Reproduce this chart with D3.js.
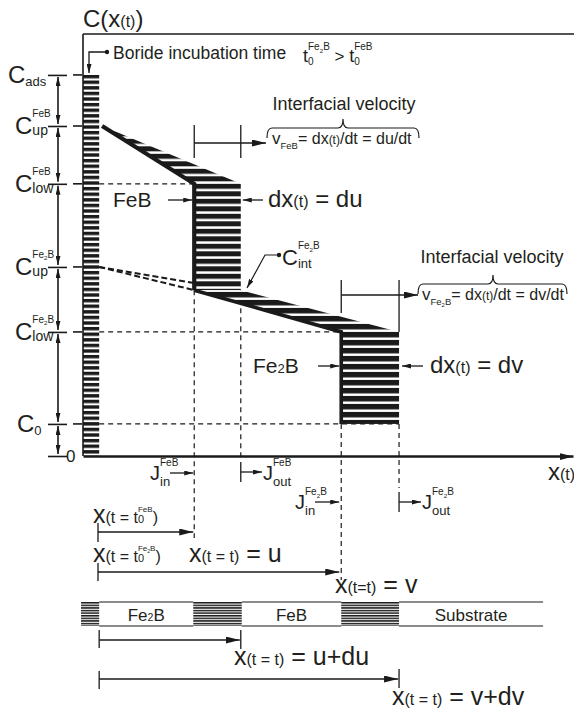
<!DOCTYPE html>
<html>
<head>
<meta charset="utf-8">
<script src="https://cdn.jsdelivr.net/npm/d3@7"></script>
<style>
  body { margin: 0; background: #fff; }
  text { font-family: "Liberation Sans", Arial, sans-serif; fill: #231f20; white-space: pre; }
</style>
</head>
<body>
<svg id="chart" width="574" height="713"></svg>
<script>
// concentration levels on the C(x(t)) axis
var levelKeys = ["ads", "upFeB", "lowFeB", "upFe2B", "lowFe2B", "c0", "zero"];
var levelValues = [9.03, 7.82, 6.45, 4.48, 2.94, 0.76, 0];
var levelSup = ["", "FeB", "FeB", "Fe₂B", "Fe₂B", "", ""];
var levelSub = ["ads", "up", "low", "up", "low", "0", ""];
var cInt = 3.93, cDash = 4.10;

// depth positions along x(t)
var depthKeys = ["column", "feStart", "u", "uDu", "v", "vDv", "substrate", "axisEnd"];
var depthValues = [0.33, 0.39, 2.27, 3.22, 5.27, 6.45, 9.39, 10];

// layer strip under the plot
var bandNames = ["", "Fe₂B", "", "FeB", "", "Substrate"];
var bandEdges = [-0.04, 0.33, 2.25, 3.24, 5.27, 6.45, 9.39];

var L = {}, D = {};
levelKeys.forEach(function(k, i) { L[k] = levelValues[i]; });
depthKeys.forEach(function(k, i) { D[k] = depthValues[i]; });

var ink = "#1a1a1a";
var svg = d3.select("#chart");
var x = d3.scaleLinear().domain([0, 10]).range([83, 573]);
var y = d3.scaleLinear().domain([0, 10]).range([456, 34]);

var defs = svg.append("defs");
function stripes(id, period, black, y0) {
  var p = defs.append("pattern").attr("id", id).attr("patternUnits", "userSpaceOnUse")
    .attr("width", 20).attr("height", period).attr("y", y0);
  p.append("rect").attr("width", 20).attr("height", period).attr("fill", "#fff");
  p.append("rect").attr("width", 20).attr("height", black).attr("fill", ink);
}
stripes("hCol", 5.6, 3.4, y(L.ads));
stripes("hFeB", 7.5, 5, y(L.lowFeB));
stripes("hFe2B", 8, 5.5, y(L.lowFe2B));
stripes("hBand", 2.6, 1.5, 602);

function marker(id, w, h) {
  defs.append("marker").attr("id", id).attr("viewBox", "0 0 10 10").attr("refX", 10).attr("refY", 5)
    .attr("markerWidth", w).attr("markerHeight", h).attr("markerUnits", "userSpaceOnUse")
    .attr("preserveAspectRatio", "none").attr("orient", "auto-start-reverse")
    .append("path").attr("d", "M0,0L10,5L0,10z").attr("fill", ink);
}
marker("ar", 14, 7);
marker("arS", 9, 5);

function line(x1, y1, x2, y2, w, dash, mk, mkStart) {
  var l = svg.append("line").attr("x1", x1).attr("y1", y1).attr("x2", x2).attr("y2", y2)
    .attr("stroke", ink).attr("stroke-width", w);
  if (dash) l.attr("stroke-dasharray", dash);
  if (mk) l.attr("marker-end", "url(#" + mk + ")");
  if (mkStart) l.attr("marker-start", "url(#" + mkStart + ")");
  return l;
}

function word(g, px, py, s, size) {
  var t = g.append("text").attr("x", px).attr("y", py).attr("xml:space", "preserve")
    .style("font-size", size + "px");
  var drop = size < 14 ? size * 0.25 : 0;
  s.split("₂").forEach(function(b, i) {
    if (i > 0) t.append("tspan").style("font-size", (size * 0.62) + "px").attr("dy", drop).text("2");
    if (b) t.append("tspan").attr("dy", i > 0 ? -drop : 0).text(b);
  });
  return t.node().getComputedTextLength();
}

// parts: [text, size, dy] or {sup: [...], sub: [...]}
function put(x0, yb, parts, anchor) {
  var g = svg.append("g"), cx = x0;
  parts.forEach(function(p) {
    if (Array.isArray(p)) cx += word(g, cx, yb + (p[2] || 0), p[0], p[1]);
    else {
      var w1 = p.sup ? word(g, cx, yb + p.sup[2], p.sup[0], p.sup[1]) : 0;
      var w2 = p.sub ? word(g, cx, yb + p.sub[2], p.sub[0], p.sub[1]) : 0;
      cx += Math.max(w1, w2);
    }
  });
  if (anchor === "middle") g.attr("transform", "translate(" + ((x0 - cx) / 2) + ",0)");
  return g;
}

// ---- guide lines (dashed)
line(x(D.column), y(L.lowFeB), x(D.u), y(L.lowFeB), 1.2, "5,4");
line(x(D.column), y(L.lowFe2B), x(D.v), y(L.lowFe2B), 1.2, "5,4");
line(x(D.column), y(L.c0), x(D.vDv), y(L.c0), 1.2, "5,4");
line(x(D.column), y(L.upFe2B), x(D.u), y(cDash), 2, "6,3");
line(x(D.column), y(L.upFe2B), x(D.u), y(cInt), 2, "6,3");
line(x(D.u), y(cInt), x(D.u), 538, 1.2, "5,4");
line(x(D.uDu), y(cInt), x(D.uDu), 460, 1.2, "5,4");
line(x(D.v), y(L.c0), x(D.v), 580, 1.2, "5,4");
line(x(D.vDv), y(L.c0), x(D.vDv), 488, 1.2, "5,4");

// ---- hatched regions
svg.append("rect").attr("x", x(0)).attr("y", y(L.ads)).attr("width", x(D.column) - x(0))
  .attr("height", y(0) - y(L.ads)).attr("fill", "url(#hCol)");
var poly = d3.line().x(function(d) { return x(d[0]); }).y(function(d) { return y(d[1]); });
svg.append("path").attr("d", poly([[D.feStart, L.upFeB], [D.u, L.lowFeB], [D.uDu, L.lowFeB]]) + "Z")
  .attr("fill", "url(#hFeB)");
svg.append("rect").attr("x", x(D.u)).attr("y", y(L.lowFeB)).attr("width", x(D.uDu) - x(D.u))
  .attr("height", y(cInt) - y(L.lowFeB)).attr("fill", "url(#hFeB)");
svg.append("path").attr("d", poly([[D.u, cInt], [D.uDu, cInt], [D.vDv, L.lowFe2B], [D.v, L.lowFe2B]]) + "Z")
  .attr("fill", "url(#hFe2B)");
svg.append("rect").attr("x", x(D.v)).attr("y", y(L.lowFe2B)).attr("width", x(D.vDv) - x(D.v))
  .attr("height", y(L.c0) - y(L.lowFe2B)).attr("fill", "url(#hFe2B)");

// ---- concentration profiles
svg.append("path").attr("d", poly([[D.feStart, L.upFeB], [D.u, L.lowFeB], [D.u, cInt]]))
  .attr("fill", "none").attr("stroke", ink).attr("stroke-width", 4.2);
svg.append("path").attr("d", poly([[D.u, cInt], [D.v, L.lowFe2B], [D.v, L.c0]]))
  .attr("fill", "none").attr("stroke", ink).attr("stroke-width", 3.6);

// ---- axes and frame
line(x(0), y(10), x(0), y(0), 1.6);
line(x(0), y(10), 574, y(10), 1.6);
var xAxis = d3.axisBottom(x).tickValues([]).tickSizeOuter(0);
svg.append("g").attr("transform", "translate(0," + y(0) + ")").call(xAxis)
  .select(".domain").attr("stroke", ink).attr("stroke-width", 2.6).attr("marker-end", "url(#ar)");
var yAxis = d3.axisLeft(y).tickValues(levelValues).tickSize(19).tickFormat("");
svg.append("g").attr("transform", "translate(67,0)").call(yAxis)
  .call(function(g) { g.select(".domain").remove(); })
  .selectAll("line").attr("stroke", ink).attr("stroke-width", 1.6);
levelValues.slice(0, -1).forEach(function(v, i) {
  line(73, y(v), 82, y(v), 1.6);
  line(58, y(v) + 2, 58, y(levelValues[i + 1]) - 2, 1.6, null, "arS", "arS");
});

// level labels
var labelX = [8, 15, 15, 15, 15, 17];
levelKeys.slice(0, -1).forEach(function(k, i) {
  var yl = y(levelValues[i]);
  var parts = [["C", 24]];
  if (levelSup[i]) parts.push({ sup: [levelSup[i], 10, -17], sub: [levelSub[i], 14, 1] });
  else parts.push({ sub: [levelSub[i], 13, 3] });
  put(labelX[i], yl + 8, parts);
});
put(66, y(0) + 6, [["0", 17]]);

// titles
put(83, 27, [["C(x", 24], ["(t)", 16], [")", 24]]);
put(548, 480, [["x", 24], ["(t)", 16]]);

// boride incubation time
svg.append("circle").attr("cx", 107).attr("cy", 52).attr("r", 2.2).attr("fill", ink);
svg.append("path").attr("d", "M107,52H89V73").attr("fill", "none").attr("stroke", ink)
  .attr("stroke-width", 1.3).attr("marker-end", "url(#arS)");
put(113, 59, [["Boride incubation time", 17.5]]);
put(303, 62, [["t", 18], { sup: ["Fe₂B", 10, -12], sub: ["0", 10, 3] }, [" > ", 17], ["t", 18],
  { sup: ["FeB", 10, -12], sub: ["0", 10, 3] }]);

// interfacial velocity FeB
function brace(x1, x2, yb, xm) {
  svg.append("path").attr("fill", "none").attr("stroke", ink).attr("stroke-width", 1.2)
    .attr("d", "M" + x1 + "," + (yb + 10) + "Q" + x1 + "," + yb + " " + (x1 + 5) + "," + yb +
      "L" + (xm - 5) + "," + yb + "Q" + xm + "," + yb + " " + xm + "," + (yb - 9) +
      "Q" + xm + "," + yb + " " + (xm + 5) + "," + yb + "L" + (x2 - 5) + "," + yb +
      "Q" + x2 + "," + yb + " " + x2 + "," + (yb + 10));
}
line(x(D.u), 125, x(D.u), 158, 1.3);
line(x(D.uDu), 125, x(D.uDu), 158, 1.3);
line(x(D.u), 143, 266, 143, 1.3, null, "ar");
svg.append("text").attr("x", 344).attr("y", 110).attr("text-anchor", "middle")
  .style("font-size", "18px").text("Interfacial velocity");
brace(267, 419, 128, 343);
put(272, 144, [["v", 17], { sub: ["FeB", 9.5, 5] }, ["= dx", 16], ["(t)", 12], ["/dt = du/dt", 16]]);

// interfacial velocity Fe2B
line(x(D.v), 280, x(D.v), 313, 1.3);
line(x(D.vDv), 280, x(D.vDv), y(L.lowFe2B), 1.3);
line(x(D.v), 295, 418, 295, 1.3, null, "ar");
svg.append("text").attr("x", 492).attr("y", 263).attr("text-anchor", "middle")
  .style("font-size", "18px").text("Interfacial velocity");
brace(418, 567, 284, 493);
put(422, 300, [["v", 17], { sub: ["Fe₂B", 9.5, 5] }, ["= dx", 16], ["(t)", 12], ["/dt = dv/dt", 16]]);

// layer labels inside plot
put(113, 207, [["FeB", 21]]);
line(168, 200, x(D.u) - 2, 200, 1.3, null, "arS");
put(268, 207, [["dx", 24], ["(t)", 16], [" = du", 24]]);
line(263, 200, x(D.uDu) + 2, 200, 1.3, null, "arS");
put(253, 373, [["Fe₂B", 21]]);
line(318, 366, x(D.v) - 2, 366, 1.3, null, "arS");
put(430, 373, [["dx", 24], ["(t)", 16], [" = dv", 24]]);
line(423, 366, x(D.vDv) + 3, 366, 1.3, null, "arS");

// C_int marker
svg.append("circle").attr("cx", 279).attr("cy", 255).attr("r", 2.2).attr("fill", ink);
svg.append("path").attr("d", "M279,255H265L247,288").attr("fill", "none").attr("stroke", ink)
  .attr("stroke-width", 1.2).attr("marker-end", "url(#arS)");
put(282, 265, [["C", 22], { sup: ["Fe₂B", 10, -16], sub: ["int", 13, 3] }]);

// fluxes
put(150, 480, [["J", 20], { sup: ["FeB", 10, -14], sub: ["in", 13, 6] }]);
line(170, 473, x(D.u) - 1, 473, 1.3, null, "arS");
line(x(D.uDu), 462, x(D.uDu), 482, 1.3);
line(x(D.uDu), 472, 262, 472, 1.3, null, "arS");
put(263, 480, [["J", 20], { sup: ["FeB", 10, -14], sub: ["out", 13, 6] }]);
put(295, 509, [["J", 20], { sup: ["Fe₂B", 10, -14], sub: ["in", 13, 6] }]);
line(315, 502, x(D.v) - 2, 502, 1.3, null, "arS");
line(x(D.vDv), 492, x(D.vDv), 512, 1.3);
line(x(D.vDv), 502, 421, 502, 1.3, null, "arS");
put(422, 509, [["J", 20], { sup: ["Fe₂B", 10, -14], sub: ["out", 13, 6] }]);

// depth arrows
put(93, 523, [["x", 25], ["(t = t", 16], { sup: ["FeB", 8, -11], sub: ["0", 11, 0] }, [")", 16]]);
line(98, 523, 98, 542, 1.3);
line(98, 532, x(D.u) - 1, 532, 1.3, null, "ar");
put(93, 562, [["x", 25], ["(t = t", 16], { sup: ["Fe₂B", 8, -11], sub: ["0", 11, 0] }, [")", 16]]);
put(189, 562, [["x", 25], ["(t = t)", 16], [" = u", 25]]);
line(98, 563, 98, 581, 1.3);
line(98, 572, x(D.v) - 2, 572, 1.3, null, "ar");
put(335, 593, [["x", 25], ["(t=t)", 16], [" = v", 25]]);

// layer strip
bandNames.forEach(function(name, i) {
  var a = x(bandEdges[i]), b = x(bandEdges[i + 1]);
  if (!name) {
    svg.append("rect").attr("x", a).attr("y", 602).attr("width", b - a).attr("height", 24)
      .attr("fill", "url(#hBand)");
  } else {
    line(a, 602, b, 602, 1.1);
    line(a, 626, b, 626, 1.1);
    put((a + b) / 2, 621, [[name, 17]], "middle");
  }
});

line(x(D.column), 630, x(D.column), 648, 1.3);
line(x(D.column), 640, x(D.uDu) - 1, 640, 1.3, null, "ar");
line(x(D.uDu), 630, x(D.uDu), 649, 1.3);
put(234, 665, [["x", 25], ["(t = t)", 16], [" = u+du", 25]]);
line(x(D.column), 671, x(D.column), 689, 1.3);
line(x(D.column), 679, x(D.vDv) - 1, 679, 1.3, null, "ar");
line(x(D.vDv), 669, x(D.vDv), 688, 1.3);
put(392, 705, [["x", 25], ["(t = t)", 16], [" = v+dv", 25]]);
</script>
</body>
</html>
